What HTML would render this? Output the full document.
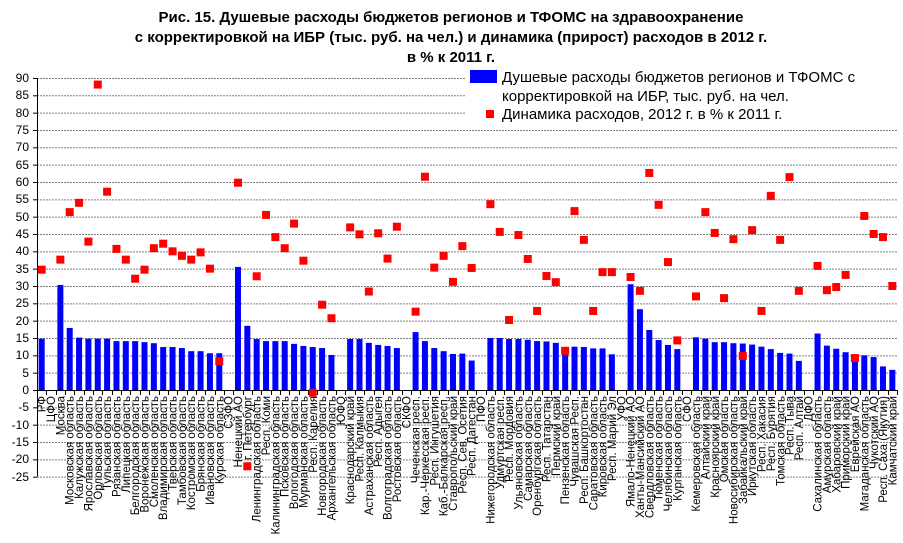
<!DOCTYPE html>
<html><head><meta charset="utf-8"><style>
html,body{margin:0;padding:0;background:#fff;}
svg{display:block;font-family:"Liberation Sans",Arial,sans-serif;}
</style></head><body>
<svg id="c" width="903" height="543" viewBox="0 0 903 543" xmlns="http://www.w3.org/2000/svg">
<rect width="903" height="543" fill="#fff"/>
<g font-weight="bold" font-size="15" text-anchor="middle" fill="#000">
<text x="451" y="22">Рис. 15. Душевые расходы бюджетов регионов и ТФОМС на здравоохранение</text>
<text x="451" y="42">с корректировкой на ИБР (тыс. руб. на чел.) и динамика (прирост) расходов в 2012 г.</text>
<text x="451" y="62">в % к 2011 г.</text>
</g>
<g id="grid"></g>
<g font-size="12" text-anchor="end" fill="#000">
<text x="29" y="82">90</text><text x="29" y="99">85</text><text x="29" y="117">80</text><text x="29" y="134">75</text><text x="29" y="151">70</text><text x="29" y="169">65</text><text x="29" y="186">60</text><text x="29" y="203">55</text><text x="29" y="221">50</text><text x="29" y="238">45</text><text x="29" y="255">40</text><text x="29" y="273">35</text><text x="29" y="290">30</text><text x="29" y="307">25</text><text x="29" y="325">20</text><text x="29" y="342">15</text><text x="29" y="359">10</text><text x="29" y="377">5</text><text x="29" y="394">0</text><text x="29" y="411">-5</text><text x="29" y="429">-10</text><text x="29" y="446">-15</text><text x="29" y="463">-20</text><text x="29" y="481">-25</text>
</g>
<g id="bars"></g>
<g id="marks"></g>
<rect x="466" y="64" width="434" height="58" fill="#fff"/>
<rect x="470" y="70" width="27" height="13" fill="#0000FF"/>
<rect x="486" y="110" width="8" height="8" fill="#FF0000"/>
<g font-size="15" fill="#000">
<text x="502" y="82">Душевые расходы бюджетов регионов и ТФОМС с</text>
<text x="502" y="101">корректировкой на ИБР, тыс. руб. на чел.</text>
<text x="502" y="119">Динамика расходов, 2012 г. в % к 2011 г.</text>
</g>
<g font-size="11.5" text-anchor="end" fill="#000">
<text transform="translate(45.7,396) rotate(-90)">РФ</text>
<text transform="translate(55.0,396) rotate(-90)">ЦФО</text>
<text transform="translate(64.4,396) rotate(-90)">Москва</text>
<text transform="translate(73.7,396) rotate(-90)">Московская область</text>
<text transform="translate(83.1,396) rotate(-90)">Калужская область</text>
<text transform="translate(92.4,396) rotate(-90)">Ярославская область</text>
<text transform="translate(101.8,396) rotate(-90)">Орловская область</text>
<text transform="translate(111.1,396) rotate(-90)">Тульская область</text>
<text transform="translate(120.5,396) rotate(-90)">Рязанская область</text>
<text transform="translate(129.8,396) rotate(-90)">Липецкая область</text>
<text transform="translate(139.2,396) rotate(-90)">Белгородская область</text>
<text transform="translate(148.5,396) rotate(-90)">Воронежская область</text>
<text transform="translate(157.9,396) rotate(-90)">Смоленская область</text>
<text transform="translate(167.2,396) rotate(-90)">Владимирская область</text>
<text transform="translate(176.5,396) rotate(-90)">Тверская область</text>
<text transform="translate(185.9,396) rotate(-90)">Тамбовская область</text>
<text transform="translate(195.2,396) rotate(-90)">Костромская область</text>
<text transform="translate(204.6,396) rotate(-90)">Брянская область</text>
<text transform="translate(213.9,396) rotate(-90)">Ивановская область</text>
<text transform="translate(223.3,396) rotate(-90)">Курская область</text>
<text transform="translate(232.6,396) rotate(-90)">СЗФО</text>
<text transform="translate(242.0,396) rotate(-90)">Ненецкий АО</text>
<text transform="translate(251.3,396) rotate(-90)">г. Петербург</text>
<text transform="translate(260.7,396) rotate(-90)">Ленинградская область</text>
<text transform="translate(270.0,396) rotate(-90)">Респ. Коми</text>
<text transform="translate(279.4,396) rotate(-90)">Калининградская область</text>
<text transform="translate(288.7,396) rotate(-90)">Псковская область</text>
<text transform="translate(298.1,396) rotate(-90)">Вологодская область</text>
<text transform="translate(307.4,396) rotate(-90)">Мурманская область</text>
<text transform="translate(316.8,396) rotate(-90)">Респ. Карелия</text>
<text transform="translate(326.1,396) rotate(-90)">Новгородская область</text>
<text transform="translate(335.5,396) rotate(-90)">Архангельская область</text>
<text transform="translate(344.8,396) rotate(-90)">ЮФО</text>
<text transform="translate(354.2,396) rotate(-90)">Краснодарский край</text>
<text transform="translate(363.5,396) rotate(-90)">Респ. Калмыкия</text>
<text transform="translate(372.9,396) rotate(-90)">Астраханская область</text>
<text transform="translate(382.2,396) rotate(-90)">Респ. Адыгея</text>
<text transform="translate(391.6,396) rotate(-90)">Волгоградская область</text>
<text transform="translate(400.9,396) rotate(-90)">Ростовская область</text>
<text transform="translate(410.3,396) rotate(-90)">СКФО</text>
<text transform="translate(419.6,396) rotate(-90)">Чеченская респ.</text>
<text transform="translate(429.0,396) rotate(-90)">Кар.-Черкесская респ.</text>
<text transform="translate(438.3,396) rotate(-90)">Респ. Ингушетия</text>
<text transform="translate(447.7,396) rotate(-90)">Каб.-Балкарская респ.</text>
<text transform="translate(457.0,396) rotate(-90)">Ставропольский край</text>
<text transform="translate(466.4,396) rotate(-90)">Респ. Сев. Осетия</text>
<text transform="translate(475.7,396) rotate(-90)">Респ. Дагестан</text>
<text transform="translate(485.1,396) rotate(-90)">ПФО</text>
<text transform="translate(494.4,396) rotate(-90)">Нижегородская область</text>
<text transform="translate(503.8,396) rotate(-90)">Удмуртская респ.</text>
<text transform="translate(513.1,396) rotate(-90)">Респ. Мордовия</text>
<text transform="translate(522.5,396) rotate(-90)">Ульяновская область</text>
<text transform="translate(531.8,396) rotate(-90)">Самарская область</text>
<text transform="translate(541.2,396) rotate(-90)">Оренбургская область</text>
<text transform="translate(550.5,396) rotate(-90)">Респ. Татарстан</text>
<text transform="translate(559.9,396) rotate(-90)">Пермский край</text>
<text transform="translate(569.2,396) rotate(-90)">Пензенская область</text>
<text transform="translate(578.6,396) rotate(-90)">Чувашская Респ.</text>
<text transform="translate(587.9,396) rotate(-90)">Респ. Башкортостан</text>
<text transform="translate(597.3,396) rotate(-90)">Саратовская область</text>
<text transform="translate(606.6,396) rotate(-90)">Кировская область</text>
<text transform="translate(616.0,396) rotate(-90)">Респ. Марий Эл</text>
<text transform="translate(625.3,396) rotate(-90)">УФО</text>
<text transform="translate(634.7,396) rotate(-90)">Ямало-Ненецкий АО</text>
<text transform="translate(644.0,396) rotate(-90)">Ханты-Мансийский АО</text>
<text transform="translate(653.4,396) rotate(-90)">Свердловская область</text>
<text transform="translate(662.7,396) rotate(-90)">Тюменская область</text>
<text transform="translate(672.1,396) rotate(-90)">Челябинская область</text>
<text transform="translate(681.4,396) rotate(-90)">Курганская область</text>
<text transform="translate(690.8,396) rotate(-90)">СФО</text>
<text transform="translate(700.1,396) rotate(-90)">Кемеровская область</text>
<text transform="translate(709.5,396) rotate(-90)">Алтайский край</text>
<text transform="translate(718.8,396) rotate(-90)">Красноярский край</text>
<text transform="translate(728.2,396) rotate(-90)">Омская область</text>
<text transform="translate(737.5,396) rotate(-90)">Новосибирская область</text>
<text transform="translate(746.9,396) rotate(-90)">Забайкальский край</text>
<text transform="translate(756.2,396) rotate(-90)">Иркутская область</text>
<text transform="translate(765.6,396) rotate(-90)">Респ. Хакасия</text>
<text transform="translate(774.9,396) rotate(-90)">Респ. Бурятия</text>
<text transform="translate(784.3,396) rotate(-90)">Томская область</text>
<text transform="translate(793.6,396) rotate(-90)">Респ. Тыва</text>
<text transform="translate(803.0,396) rotate(-90)">Респ. Алтай</text>
<text transform="translate(812.3,396) rotate(-90)">ДФО</text>
<text transform="translate(821.7,396) rotate(-90)">Сахалинская область</text>
<text transform="translate(831.0,396) rotate(-90)">Амурская область</text>
<text transform="translate(840.4,396) rotate(-90)">Хабаровский край</text>
<text transform="translate(849.7,396) rotate(-90)">Приморский край</text>
<text transform="translate(859.1,396) rotate(-90)">Еврейская АО</text>
<text transform="translate(868.4,396) rotate(-90)">Магаданская область</text>
<text transform="translate(877.8,396) rotate(-90)">Чукотский АО</text>
<text transform="translate(887.1,396) rotate(-90)">Респ. Саха (Якутия)</text>
<text transform="translate(896.5,396) rotate(-90)">Камчатский край</text>
</g>
</svg>
<script>
(function(){
var NS="http://www.w3.org/2000/svg";
function el(p,t,a){var e=document.createElementNS(NS,t);for(var k in a)e.setAttribute(k,a[k]);p.appendChild(e);return e;}
var x0=37,x1=897,n=92,w=(x1-x0)/n,y0=390,s=3.467;
function Y(v){return y0-v*s;}
var g=document.getElementById('grid');
for(var v=-25;v<=90;v+=5){ if(v===0)continue;
 el(g,'line',{x1:x0,x2:x1,y1:Y(v)+0.5,y2:Y(v)+0.5,stroke:'#808080','stroke-width':1,'stroke-dasharray':'2,1'});}
var bars=[14.8,null,30.3,17.9,15.1,14.8,14.8,14.8,14.1,14.1,14.1,13.8,13.5,12.4,12.4,12.1,11.2,11.2,10.6,10.6,null,35.5,18.5,14.7,14.1,14.1,14.1,13.3,12.7,12.4,12.1,10.1,null,14.7,14.7,13.6,13.0,12.7,12.1,null,16.7,14.1,12.1,11.2,10.4,10.5,8.5,null,15,15,14.7,14.7,14.5,14.1,14,13.6,12,12.5,12.4,12,12,10.3,null,30.5,23.3,17.3,14.4,13,11.8,null,15.2,14.8,13.8,13.8,13.5,13.4,13.1,12.5,11.8,10.7,10.5,8.4,null,16.3,12.8,11.9,10.9,10.3,10,9.5,6.8,5.8];
var mk=[34.7,null,37.6,51.3,54.0,42.8,88.1,57.2,40.7,37.6,32.1,34.7,40.9,42.2,40.0,38.7,37.6,39.7,35.0,8.3,null,59.8,-22,32.8,50.5,44.1,40.9,48.0,37.3,-0.8,24.6,20.7,null,46.9,44.9,28.4,45.2,37.9,47.1,null,22.6,61.5,35.3,38.7,31.2,41.5,35.2,null,53.6,45.6,20.2,44.7,37.8,22.8,32.9,31.1,11.3,51.6,43.3,22.8,34,34,null,32.6,28.6,62.6,53.4,36.9,14.3,null,27,51.3,45.3,26.5,43.5,9.8,46.1,22.8,56,43.3,61.4,28.6,null,35.8,28.8,29.7,33.2,9.2,50.2,45,44.1,30];
var b=document.getElementById('bars'),m=document.getElementById('marks');
for(var i=0;i<n;i++){var cx=x0+w*(i+0.5);
 if(bars[i]!=null){el(b,'rect',{x:cx-3,y:Y(bars[i]),width:6,height:bars[i]*s,fill:'#0000FF'});}
}
el(b,'line',{x1:x0,x2:x1,y1:y0+0.5,y2:y0+0.5,stroke:'#000','stroke-width':1});
el(b,'line',{x1:x0+0.5,x2:x0+0.5,y1:Y(90),y2:Y(-25),stroke:'#000','stroke-width':1});
for(var v=-25;v<=90;v+=5){el(b,'line',{x1:x0-4,x2:x0,y1:Y(v)+0.5,y2:Y(v)+0.5,stroke:'#000'});}
for(var i=0;i<=n;i++){var tx=Math.round(x0+w*i)+0.5;el(b,'line',{x1:tx,x2:tx,y1:y0,y2:y0+5,stroke:'#000'});}
for(var i=0;i<n;i++){var cx=x0+w*(i+0.5);
 if(mk[i]!=null){el(m,'rect',{x:cx-4,y:Y(mk[i])-4,width:8,height:8,fill:'#FF0000'});}
}
})();
</script>
</body></html>
